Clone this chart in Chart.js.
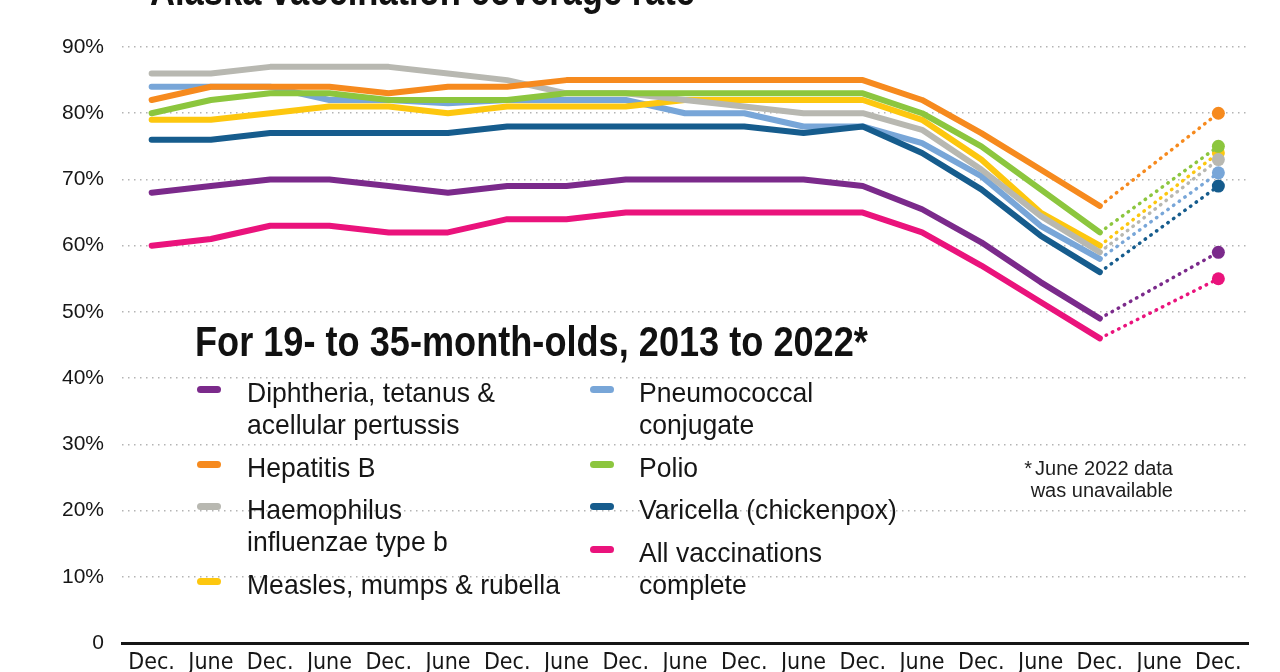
<!DOCTYPE html>
<html>
<head>
<meta charset="utf-8">
<script src="https://cdn.jsdelivr.net/npm/chart.js@4.4.1/dist/chart.umd.min.js"></script>
<style>
  html, body { margin: 0; padding: 0; background: #fff; overflow: hidden; }
  #wrap { position: relative; width: 1280px; height: 700px; }
  #c { position: absolute; left: 0; top: 0; }
  .ov { position: absolute; white-space: nowrap; color: #111; font-family: "Liberation Sans", Arial, sans-serif; z-index: 2; }
  #title { left: 150px; top: -30.5px; font-size: 42px; line-height: 42px; font-weight: bold; transform-origin: left top; }
  #sub { left: 195px; top: 320.5px; font-size: 42px; line-height: 42px; font-weight: bold; transform-origin: left top; }
  .col { position: absolute; top: 377px; display: flex; flex-direction: column; gap: 10.5px; z-index: 2; }
  .item { position: relative; }
  .sw { position: absolute; top: 9px; width: 24px; height: 7px; border-radius: 3.5px; }
  .lab { position: absolute; font-family: "Liberation Sans", Arial, sans-serif; font-size: 28px; line-height: 32px; color: #161616; white-space: nowrap; transform-origin: left top; }
  #note { right: 107px; top: 457px; font-size: 20px; line-height: 22px; text-align: right; color: #1e1e1e; }
  #note .ast { margin-right: 3px; }
</style>
</head>
<body>
<div id="wrap">
  <canvas id="c"></canvas>
  <div id="title" class="ov">Alaska vaccination coverage rate</div>
  <div id="sub" class="ov">For 19- to 35-month-olds, 2013 to 2022*</div>
  <div id="legL" class="col" style="left:197px"></div>
  <div id="legR" class="col" style="left:590px"></div>
  <div id="note" class="ov"><span class="ast">*</span>June 2022 data<br>was unavailable</div>
</div>
<script>
// ---- data ----
const categories = ['Dec.','June','Dec.','June','Dec.','June','Dec.','June','Dec.','June','Dec.','June','Dec.','June','Dec.','June','Dec.','June','Dec.'];
const yTickValues = [0,10,20,30,40,50,60,70,80,90];
const yTickLabels = ['0','10%','20%','30%','40%','50%','60%','70%','80%','90%'];

const seriesLabels = [
  'Diphtheria, tetanus &\nacellular pertussis',
  'Hepatitis B',
  'Haemophilus\ninfluenzae type b',
  'Measles, mumps & rubella',
  'Pneumococcal\nconjugate',
  'Polio',
  'Varicella (chickenpox)',
  'All vaccinations\ncomplete'
];
const dtap      = [68,69,70,70,69,68,69,69,70,70,70,70,69,65.5,60.5,54.5,49,null,59];
const hepB      = [82,84,84,84,83,84,84,85,85,85,85,85,85,82,77,71.5,66,null,80];
const hib       = [86,86,87,87,87,86,85,83,83,82,81,80,80,77.5,71.5,64.5,59,null,73];
const mmr       = [79,79,80,81,81,80,81,81,81,82,82,82,82,79,73,65,60,null,74];
const pcv       = [84,84,84,82,82,81.5,82,82,82,80,80,78,78,75.5,70.5,63,58,null,71];
const polio     = [80,82,83,83,82,82,82,83,83,83,83,83,83,80,75,68.5,62,null,75];
const varicella = [76,76,77,77,77,77,78,78,78,78,78,77,78,74,68.5,61.5,56,null,69];
const allVax    = [60,61,63,63,62,62,64,64,65,65,65,65,65,62,57,51.5,46,null,55];

const seriesValues = [dtap, hepB, hib, mmr, pcv, polio, varicella, allVax];
const seriesColors = ['#7b2a8b','#f68a1e','#b8b8b1','#fdc70f','#78a6d8','#8cc63e','#165c8d','#ea137c'];
const drawOrder    = [6, 0, 2, 3, 5, 1, 4, 7]; // lower = on top
const lastSolidIndex = 16;
const endIndex = 18;

// ---- font helpers ----
function hasFont(name) {
  const c = document.createElement('canvas').getContext('2d');
  const t = 'abcdefghijklmnopqrstuvwxyz ABCDEFGHIJ 0123456789';
  c.font = '40px monospace'; const w1 = c.measureText(t).width;
  c.font = '40px "' + name + '", monospace'; const w2 = c.measureText(t).width;
  return Math.abs(w1 - w2) > 0.5;
}
const narrow = ['Liberation Sans Narrow', 'DejaVu Sans Condensed'].find(hasFont);
const xTickFont = narrow ? { family: '"' + narrow + '"', size: 23 } : { family: '"Liberation Sans", Arial', size: 19 };

function fitWidth(el, w) {
  const nat = el.scrollWidth;
  el.style.transform = 'scaleX(' + (w / nat) + ')';
}
fitWidth(document.getElementById('title'), 545);
fitWidth(document.getElementById('sub'), 673);

// ---- legend (HTML, from series arrays) ----
const labEls = [];
seriesLabels.forEach((lab, i) => {
  const col = document.getElementById(i < 4 ? 'legL' : 'legR');
  const item = document.createElement('div');
  item.className = 'item';
  const lines = lab.split('\n');
  item.style.height = (lines.length * 32) + 'px';
  const sw = document.createElement('div');
  sw.className = 'sw';
  sw.style.left = '0px';
  sw.style.background = seriesColors[i];
  const t = document.createElement('div');
  t.className = 'lab';
  t.style.left = (i < 4 ? 50 : 49) + 'px';
  t.innerHTML = lines.join('<br>');
  item.appendChild(sw); item.appendChild(t);
  col.appendChild(item);
  labEls.push(t);
});
const refScale = 313 / labEls[3].scrollWidth;
labEls.forEach(e => e.style.transform = 'scaleX(' + refScale + ')');

// ---- chart ----
const datasets = seriesValues.map((vals, i) => ({
  label: seriesLabels[i].replace('\n', ' '),
  data: vals,
  borderColor: seriesColors[i],
  backgroundColor: seriesColors[i],
  borderWidth: 6,
  borderCapStyle: 'round',
  borderJoinStyle: 'round',
  tension: 0,
  spanGaps: true,
  order: drawOrder[i],
  pointRadius: ctx => ctx.dataIndex === endIndex ? 6.5 : 0,
  pointHoverRadius: 0,
  pointBorderWidth: 0,
  pointBackgroundColor: seriesColors[i],
  segment: {
    borderDash: ctx => ctx.p1DataIndex > lastSolidIndex ? [0.5, 6.5] : undefined,
    borderWidth: ctx => ctx.p1DataIndex > lastSolidIndex ? 3.5 : undefined,
    borderCapStyle: ctx => ctx.p1DataIndex > lastSolidIndex ? 'round' : undefined
  }
}));

new Chart(document.getElementById('c'), {
  type: 'line',
  data: { labels: categories, datasets },
  options: {
    responsive: true,
    maintainAspectRatio: false,
    animation: false,
    events: [],
    layout: { padding: { left: 0, right: 32, top: 47, bottom: 0 } },
    plugins: { legend: { display: false }, tooltip: { enabled: false }, title: { display: false } },
    scales: {
      x: {
        type: 'category',
        offset: true,
        grid: { display: false, drawTicks: false },
        border: { display: true, color: '#161616', width: 3 },
        ticks: { color: '#161616', font: xTickFont, padding: 6, maxRotation: 0, autoSkip: false },
        afterFit: s => { s.height = 57; }
      },
      y: {
        min: 0, max: 90,
        afterBuildTicks: s => { s.ticks = yTickValues.map(v => ({ value: v })); },
        grid: {
          drawTicks: false,
          color: c => c.tick && c.tick.value === 0 ? 'rgba(0,0,0,0)' : '#b4b4b4',
          lineWidth: 1.5
        },
        border: { display: false, dash: [1.5, 4.5] },
        ticks: {
          color: '#161616',
          font: { family: '"Liberation Sans", Arial', size: 21 },
          padding: 18,
          callback: (v) => yTickLabels[yTickValues.indexOf(v)]
        },
        afterFit: s => { s.width = 122; }
      }
    }
  }
});
</script>
</body>
</html>
